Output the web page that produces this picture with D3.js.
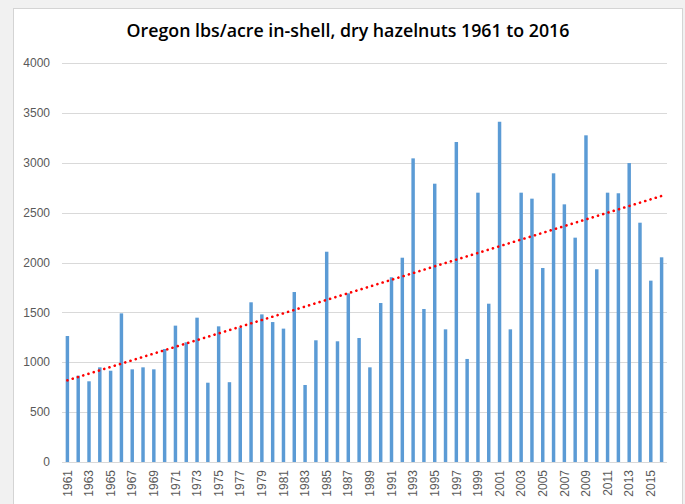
<!DOCTYPE html>
<html>
<head>
<meta charset="utf-8">
<script src="https://cdn.jsdelivr.net/npm/d3@7"></script>
<style>
  body { margin: 0; background: #f1f1f1; }
  svg { display: block; }
</style>
</head>
<body>
<script>
'use strict';

const years = d3.range(1961, 2017);
const yields = [
  1263, 865, 809, 949, 915, 1490, 929, 949, 929, 1133,
  1367, 1200, 1447, 795, 1360, 800, 1348, 1601, 1480, 1403,
  1337, 1704, 772, 1220, 2108, 1210, 1691, 1243, 949, 1594,
  1852, 2048, 3044, 1534, 2790, 1330, 3208, 1033, 2700, 1587,
  3411, 1330, 2700, 2640, 1945, 2894, 2583, 2249, 3275, 1932,
  2700, 2694, 2997, 2399, 1818, 2052
];
const yTicks = [0, 500, 1000, 1500, 2000, 2500, 3000, 3500, 4000];
const title = "Oregon lbs/acre in-shell, dry hazelnuts 1961 to 2016";

const W = 685, H = 504;
const margin = {top: 63, right: 18, bottom: 42, left: 62},
      width = W - margin.left - margin.right,
      height = H - margin.top - margin.bottom;

const svg = d3.select("body").append("svg")
    .attr("width", W)
    .attr("height", H);

// chart frame
svg.append("rect")
    .attr("x", 13.5).attr("y", 8.5)
    .attr("width", 669).attr("height", 510)
    .attr("fill", "#fff")
    .attr("stroke", "#d4d4d4");

svg.append("text")
    .attr("x", 348).attr("y", 37)
    .attr("text-anchor", "middle")
    .style("font-family", "'Open Sans', sans-serif")
    .style("font-weight", 600)
    .style("font-size", "17.8px")
    .attr("fill", "#000")
    .text(title);

const g = svg.append("g")
    .attr("transform", `translate(${margin.left},${margin.top})`);

const x = d3.scaleBand().domain(years).range([0, width]).paddingInner(0.68).paddingOuter(0.34);
const y = d3.scaleLinear().domain([0, 4000]).range([height, 0]);

// grid
g.append("g").selectAll("line")
    .data(yTicks)
  .enter().append("line")
    .attr("x1", 0).attr("x2", width)
    .attr("y1", (d) => Math.round(y(d)) + 0.5)
    .attr("y2", (d) => Math.round(y(d)) + 0.5)
    .attr("stroke", "#d9d9d9")
    .attr("stroke-width", 1);

// y labels
g.append("g").selectAll("text")
    .data(yTicks)
  .enter().append("text")
    .attr("x", -12)
    .attr("y", (d) => y(d))
    .attr("dy", "0.35em")
    .attr("text-anchor", "end")
    .style("font-family", "'Liberation Sans', Arial, sans-serif")
    .style("font-size", "12px")
    .attr("fill", "#595959")
    .text((d) => d);

// bars
g.append("g").selectAll("rect")
    .data(years)
  .enter().append("rect")
    .attr("x", (d) => x(d))
    .attr("y", (d, i) => y(yields[i]))
    .attr("width", x.bandwidth())
    .attr("height", (d, i) => height - y(yields[i]))
    .attr("fill", "#5b9bd5");

// x labels, every other year
g.append("g").selectAll("text")
    .data(years.filter((d, i) => i % 2 === 0))
  .enter().append("text")
    .attr("transform", (d) => `translate(${x(d) + x.bandwidth() / 2},${height + 8}) rotate(-90)`)
    .attr("dy", "0.35em")
    .attr("text-anchor", "end")
    .style("font-family", "'Liberation Sans', Arial, sans-serif")
    .style("font-size", "12px")
    .attr("fill", "#595959")
    .text((d) => d);

// linear trendline (least squares)
const n = years.length;
const xs = years.map((d, i) => i + 1);
const mx = d3.mean(xs), my = d3.mean(yields);
const slope = d3.sum(xs, (d, i) => (d - mx) * (yields[i] - my)) / d3.sum(xs, (d) => (d - mx) * (d - mx));
const icpt = my - slope * mx;
const trend = [years[0], years[n - 1]];

g.append("line")
    .attr("x1", x(trend[0]) + x.bandwidth() / 2)
    .attr("x2", x(trend[1]) + x.bandwidth() / 2)
    .attr("y1", y(icpt + slope * 1))
    .attr("y2", y(icpt + slope * n))
    .attr("stroke", "#ff0000")
    .attr("stroke-width", 2.6)
    .attr("stroke-linecap", "round")
    .attr("stroke-dasharray", "0.1 5.4");
</script>
</body>
</html>
